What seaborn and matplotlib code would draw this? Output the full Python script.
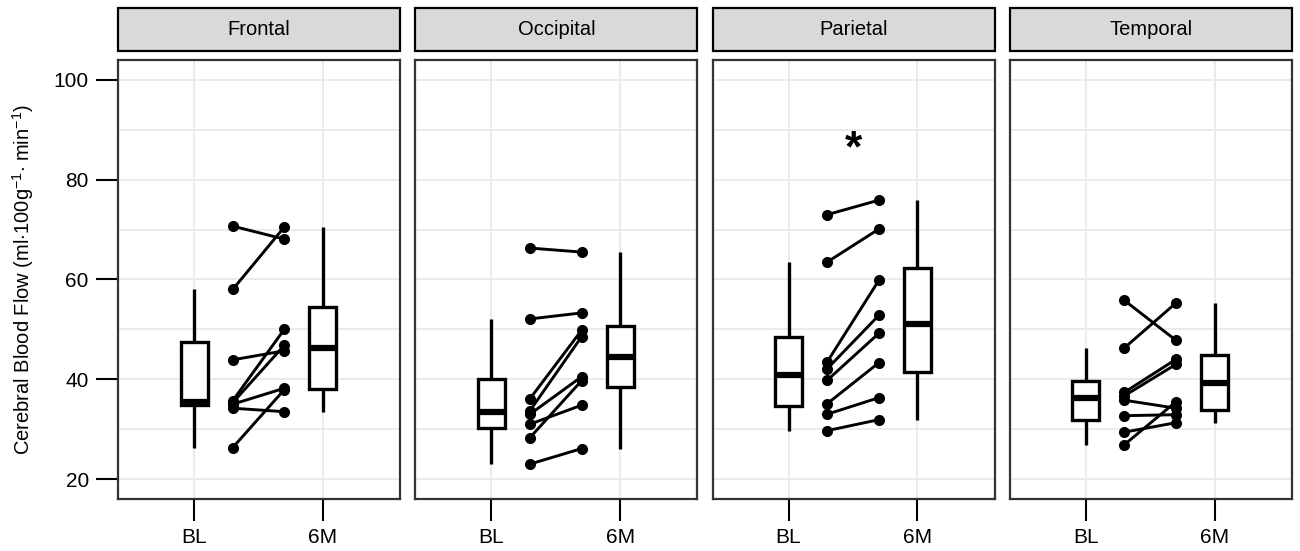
import numpy as np
import pandas as pd
import matplotlib
matplotlib.use("Agg")
import matplotlib.pyplot as plt
from matplotlib.patches import Rectangle
import seaborn as sns

# Data: paired subjects, baseline (BL) and 6 months (6M)
regions = ["Frontal", "Occipital", "Parietal", "Temporal"]
times = ["BL", "6M"]

frontal_bl = [70.7, 58.0, 43.9, 35.7, 35.3, 35.0, 34.2, 26.3]
frontal_6m = [68.1, 70.5, 45.7, 50.0, 46.8, 38.2, 33.5, 37.9]
occipital_bl = [66.3, 52.1, 36.1, 33.7, 33.0, 31.0, 28.3, 23.0]
occipital_6m = [65.5, 53.3, 49.8, 48.5, 40.5, 34.8, 39.7, 26.1]
parietal_bl = [73.0, 63.5, 43.5, 42.1, 39.8, 35.1, 33.0, 29.7]
parietal_6m = [75.9, 70.1, 59.8, 52.8, 49.2, 43.3, 36.3, 31.9]
temporal_bl = [55.8, 46.3, 37.4, 36.7, 35.8, 32.7, 29.4, 26.9]
temporal_6m = [47.8, 55.3, 44.0, 43.0, 34.2, 32.9, 31.3, 35.5]

significant = ["Parietal"]

values = {
    "Frontal": (frontal_bl, frontal_6m),
    "Occipital": (occipital_bl, occipital_6m),
    "Parietal": (parietal_bl, parietal_6m),
    "Temporal": (temporal_bl, temporal_6m),
}

# long-form table
rows = []
for reg in regions:
    for t, vals in zip(times, values[reg]):
        for subj, v in enumerate(vals):
            rows.append({"region": reg, "time": t, "subject": subj, "cbf": v})
df = pd.DataFrame(rows)

# positions on the x axis: boxes at the ticks, paired points in between
box_pos = {"BL": 0.0, "6M": 1.0}
pair_pos = {"BL": 0.3, "6M": 0.7}
df["box_x"] = df["time"].map(box_pos)
df["pair_x"] = df["time"].map(pair_pos)

sns.set_theme(style="white")
plt.rcParams["font.family"] = ["Liberation Sans", "DejaVu Sans"]
plt.rcParams["mathtext.fontset"] = "custom"
plt.rcParams["mathtext.rm"] = "Liberation Sans"
plt.rcParams["mathtext.it"] = "Liberation Sans:italic"
plt.rcParams["mathtext.bf"] = "Liberation Sans:bold"

fig, axes = plt.subplots(1, 4, figsize=(13, 5.51), dpi=100, sharey=True)
fig.subplots_adjust(left=118 / 1300, right=1292 / 1300, top=1 - 60 / 551,
                    bottom=1 - 499 / 551, wspace=15 / 282)

grid_col = "#ebebeb"

for ax, reg in zip(axes, regions):
    sub = df[df["region"] == reg]

    # grid first
    for yv in range(20, 101, 10):
        ax.axhline(yv, color=grid_col, lw=1.4, zorder=0)
    for xv in box_pos.values():
        ax.axvline(xv, color=grid_col, lw=1.4, zorder=0)

    sns.boxplot(data=sub, x="box_x", y="cbf", native_scale=True, orient="x",
                width=0.21, color="white", linecolor="black", linewidth=2.4,
                showfliers=False, whis=1.5,
                medianprops={"linewidth": 4.5, "solid_capstyle": "butt"},
                capprops={"visible": False}, ax=ax, zorder=2)

    sns.lineplot(data=sub, x="pair_x", y="cbf", units="subject", estimator=None,
                 color="black", linewidth=2.1, marker="o", markersize=8,
                 markeredgewidth=0, legend=False, ax=ax, zorder=3)

    if reg in significant:
        ax.text(0.5, 83.6, "*", ha="center", va="baseline", fontsize=32,
                fontweight="bold", color="black")

    ax.set_xlim(-0.59, 1.6)
    ax.set_ylim(16.0, 104.0)
    ax.set_xticks(list(box_pos.values()))
    ax.set_xticklabels(times)
    ax.set_xlabel("")
    ax.set_ylabel("")
    ax.tick_params(axis="x", length=16, width=1.5, color="black",
                   labelsize=15, pad=5, labelcolor="black", bottom=True)
    for sp in ax.spines.values():
        sp.set_color("#333333")
        sp.set_linewidth(1.6)

    # strip with the facet name
    strip = Rectangle((0, 1.0205), 1, 0.098, transform=ax.transAxes,
                      facecolor="#d9d9d9", edgecolor="black", lw=1.6,
                      clip_on=False)
    ax.add_patch(strip)
    ax.text(0.5, 1.0205 + 0.049, reg, transform=ax.transAxes, ha="center",
            va="center", fontsize=14.5, color="black")

axes[0].set_yticks([20, 40, 60, 80, 100])
axes[0].tick_params(axis="y", length=16, width=1.5, color="black",
                    labelsize=15, pad=5, labelcolor="black", left=True)
for ax in axes[1:]:
    ax.tick_params(axis="y", left=False)

axes[0].set_ylabel(r"Cerebral Blood Flow (ml$\cdot$100g$^{-1}$$\cdot$ min$^{-1}$)",
                   fontsize=14.5, labelpad=13, color="black")

fig.savefig("out.png", dpi=100, facecolor="white")
